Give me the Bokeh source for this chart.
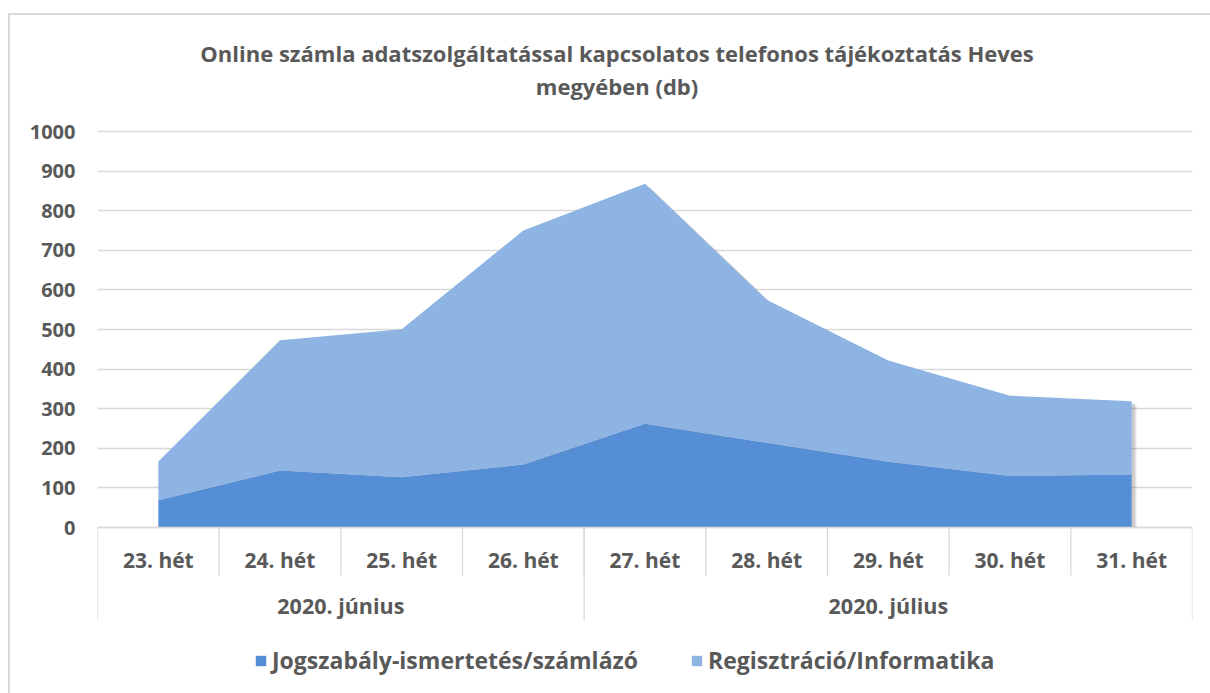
from bokeh.plotting import figure
from bokeh.models import ColumnDataSource, FixedTicker, Range1d, Legend
from bokeh.core.properties import value
from bokeh.embed import file_html
from bokeh.resources import INLINE

# ---- data ----
weeks = ["23. hét", "24. hét", "25. hét", "26. hét", "27. hét", "28. hét", "29. hét", "30. hét", "31. hét"]
months = ["2020. június", "2020. július"]
weeks_per_month = [4, 5]
jogszabaly = [69, 144, 127, 159, 262, 214, 166, 130, 134]
regisztracio = [98, 329, 374, 591, 606, 361, 256, 203, 185]
series_names = ["Jogszabály-ismertetés/számlázó", "Regisztráció/Informatika"]
y_ticks = list(range(0, 1001, 100))
title_lines = ["Online számla adatszolgáltatással kapcsolatos telefonos tájékoztatás Heves",
               "megyében (db)"]

# ---- style / layout ----
FONT = "Open Sans"
TXT = "#595959"
GRID = "#d9d9d9"
DARK = "#558ed5"
LIGHT = "#8eb4e3"
Y_TOP = 1293
Y_BOT = -419
TITLE_X = 4.27
TITLE_Y = [1199, 1116]

n = len(weeks)
xs = [i + 0.5 for i in range(n)]
totals = [a + b for a, b in zip(jogszabaly, regisztracio)]
src = ColumnDataSource(dict(x=xs, jog=jogszabaly, reg=regisztracio))

p = figure(width=1200, height=678, output_backend="svg", toolbar_location=None,
           x_range=Range1d(0, n), y_range=Range1d(Y_BOT, Y_TOP),
           min_border_left=87, min_border_right=18, min_border_top=0, min_border_bottom=0,
           title=None)
# chart border (top and left edges visible in the crop)
p.styles = {"position": "relative", "left": "10px", "top": "15px",
            "box-shadow": "0 -2px 0 0 #d9d9d9, -2px 0 0 0 #d9d9d9, -2px -2px 0 0 #d9d9d9"}
p.outline_line_color = None
p.background_fill_color = "white"
p.border_fill_color = "white"

p.xaxis.visible = False
p.xgrid.visible = False
p.ygrid.ticker = FixedTicker(ticks=y_ticks)
p.ygrid.grid_line_color = GRID
p.ygrid.grid_line_width = 1.3

ax = p.yaxis[0]
ax.ticker = FixedTicker(ticks=y_ticks)
ax.axis_line_color = None
ax.major_tick_line_color = None
ax.minor_tick_line_color = None
ax.major_tick_out = 0
ax.major_tick_in = 0
ax.major_label_standoff = 22
ax.major_label_text_font = FONT
ax.major_label_text_font_style = "bold"
ax.major_label_text_font_size = "20px"
ax.major_label_text_color = TXT

# soft drop shadow of the stacked area
for dx, dy, a in [(0.045, -10, 0.05), (0.035, -8, 0.07), (0.025, -5, 0.09)]:
    p.varea(x=[x + dx for x in xs], y1=[0] * n, y2=[t + dy for t in totals],
            fill_color="black", fill_alpha=a)

r = p.varea_stack(["jog", "reg"], x="x", color=[DARK, LIGHT], source=src)

# two-level category axis drawn below zero
p.segment(x0=[0], y0=[0], x1=[n], y1=[0], line_color=GRID, line_width=1.5)
p.segment(x0=list(range(1, n)), y0=[0] * (n - 1), x1=list(range(1, n)), y1=[-121] * (n - 1),
          line_color=GRID, line_width=1.3)
bounds = [0]
for w in weeks_per_month:
    bounds.append(bounds[-1] + w)
p.segment(x0=bounds, y0=[0] * len(bounds), x1=bounds, y1=[-235] * len(bounds),
          line_color=GRID, line_width=1.3)
p.text(x=xs, y=[-83] * n, text=weeks, text_align="center", text_baseline="middle",
       text_font=value(FONT), text_font_style="bold", text_font_size="21px", text_color=TXT)
mid = [(bounds[i] + bounds[i + 1]) / 2 for i in range(len(months))]
p.text(x=mid, y=[-197] * len(months), text=months, text_align="center", text_baseline="middle",
       text_font=value(FONT), text_font_style="bold", text_font_size="21.5px", text_color=TXT)

# chart title (two centred lines)
p.text(x=[TITLE_X] * 2, y=TITLE_Y, text=title_lines, text_align="center", text_baseline="middle",
       text_font=value(FONT), text_font_style="bold", text_font_size="22px", text_color=TXT)

legend = Legend(items=[(series_names[0], [r[0]]), (series_names[1], [r[1]])],
                orientation="horizontal", location=(157, 17))
legend.label_text_font = FONT
legend.label_text_font_style = "bold"
legend.label_text_font_size = "23px"
legend.label_text_color = TXT
legend.border_line_color = None
legend.background_fill_alpha = 0
legend.glyph_width = 13
legend.glyph_height = 13
legend.label_standoff = 5
legend.spacing = 52
legend.margin = 0
legend.padding = 4
p.add_layout(legend)

open("out.html", "w").write(file_html(p, INLINE))
